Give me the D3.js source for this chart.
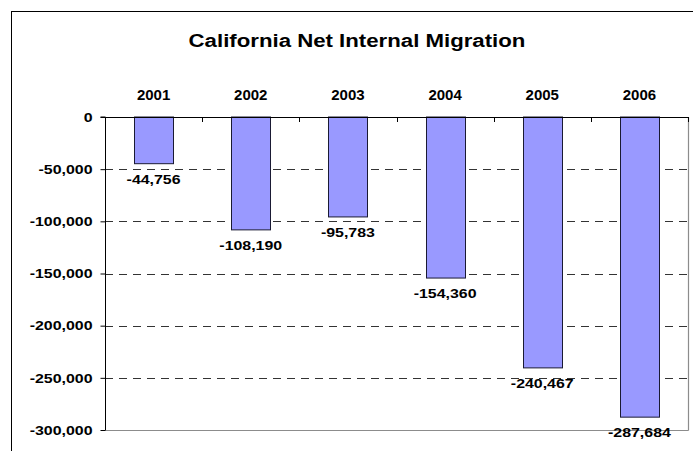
<!DOCTYPE html>
<html>
<head>
<meta charset="utf-8">
<script src="https://cdn.jsdelivr.net/npm/d3@7"></script>
<style>
  html, body { margin: 0; padding: 0; background: #fff; }
  svg { display: block; }
  text { font-family: Arial, "Liberation Sans", sans-serif; font-weight: bold; fill: #000; }
</style>
</head>
<body>
<svg id="chart" width="693" height="451"></svg>
<script>
const title = "California Net Internal Migration";
const years = ["2001", "2002", "2003", "2004", "2005", "2006"];
const migration = [-44756, -108190, -95783, -154360, -240467, -287684];
const yTicks = [0, -50000, -100000, -150000, -200000, -250000, -300000];

const svg = d3.select("#chart");
const W = 693, H = 451;
const plot = { left: 105, right: 688, top: 117, bottom: 430 };
const stretch = 1.18;
const fmt = d => d3.format(",")(d).replace("−", "-");

// outer chart border (only top and left visible in window)
svg.append("rect")
  .attr("x", 11.5).attr("y", 11.5)
  .attr("width", W + 20).attr("height", H + 20)
  .attr("fill", "#fff").attr("stroke", "#000").attr("stroke-width", 1);

svg.append("text")
  .attr("transform", `translate(357,47) scale(1.17,1)`)
  .attr("text-anchor", "middle")
  .attr("font-size", 19)
  .text(title);

const x = d3.scaleBand().domain(years).range([plot.left, plot.right]).paddingInner(0).paddingOuter(0);
const y = d3.scaleLinear().domain([0, -300000]).range([plot.top, plot.bottom]);

// plot area border (gray right & bottom)
svg.append("line")
  .attr("x1", plot.right + 0.5).attr("x2", plot.right + 0.5)
  .attr("y1", plot.top).attr("y2", plot.bottom + 0.5)
  .attr("stroke", "#8c8c8c").attr("stroke-width", 1.2);
svg.append("line")
  .attr("x1", plot.left).attr("x2", plot.right + 0.5)
  .attr("y1", plot.bottom + 0.5).attr("y2", plot.bottom + 0.5)
  .attr("stroke", "#8c8c8c").attr("stroke-width", 1.2);

// gridlines
svg.append("g").selectAll("line")
  .data(yTicks.filter(d => d !== 0 && d !== -300000))
  .join("line")
  .attr("x1", plot.left).attr("x2", plot.right)
  .attr("y1", d => Math.round(y(d)) + 0.5).attr("y2", d => Math.round(y(d)) + 0.5)
  .attr("stroke", "#333").attr("stroke-width", 1)
  .attr("stroke-dasharray", "8,6");

// bars
const barW = 39;
svg.append("g").selectAll("rect")
  .data(migration)
  .join("rect")
  .attr("x", (d, i) => Math.round(x(years[i]) + x.bandwidth() / 2 - barW / 2) + 0.5)
  .attr("y", y(0))
  .attr("width", barW)
  .attr("height", d => y(d) - y(0))
  .attr("fill", "#9999ff")
  .attr("stroke", "#1a1a33").attr("stroke-width", 1);

// value labels
svg.append("g").selectAll("text")
  .data(migration)
  .join("text")
  .attr("transform", (d, i) => `translate(${x(years[i]) + x.bandwidth() / 2},${y(d) + 20}) scale(${stretch},1)`)
  .attr("text-anchor", "middle")
  .attr("font-size", 13.5)
  .text(fmt);

// y axis
const yAxis = d3.axisLeft(y).tickValues(yTicks).tickSize(5).tickPadding(8).tickFormat(fmt);
const gy = svg.append("g").attr("transform", `translate(${plot.left + 0.5},0)`).call(yAxis);
gy.select(".domain").attr("stroke", "#000").attr("d", `M-5,${plot.top}H0V${plot.bottom}`);
gy.selectAll(".tick line").attr("stroke", "#000");
gy.selectAll(".tick text")
  .attr("x", -13 / stretch)
  .attr("transform", `scale(${stretch},1)`)
  .attr("font-size", 13.5)
  .attr("font-family", "Arial, 'Liberation Sans', sans-serif")
  .attr("font-weight", "bold").attr("fill", "#000");

// x axis at zero (top), ticks between categories pointing down
svg.append("line")
  .attr("x1", plot.left).attr("x2", plot.right + 0.5)
  .attr("y1", y(0) + 0.5).attr("y2", y(0) + 0.5)
  .attr("stroke", "#000").attr("stroke-width", 1);
svg.append("g").selectAll("line")
  .data(years)
  .join("line")
  .attr("x1", d => Math.round(x(d) + x.bandwidth()) + 0.5)
  .attr("x2", d => Math.round(x(d) + x.bandwidth()) + 0.5)
  .attr("y1", y(0)).attr("y2", y(0) + 5)
  .attr("stroke", "#000");

// category labels above
svg.append("g").selectAll("text")
  .data(years)
  .join("text")
  .attr("x", d => x(d) + x.bandwidth() / 2)
  .attr("y", 99.5)
  .attr("text-anchor", "middle")
  .attr("font-size", 15)
  .text(d => d);
</script>
</body>
</html>
